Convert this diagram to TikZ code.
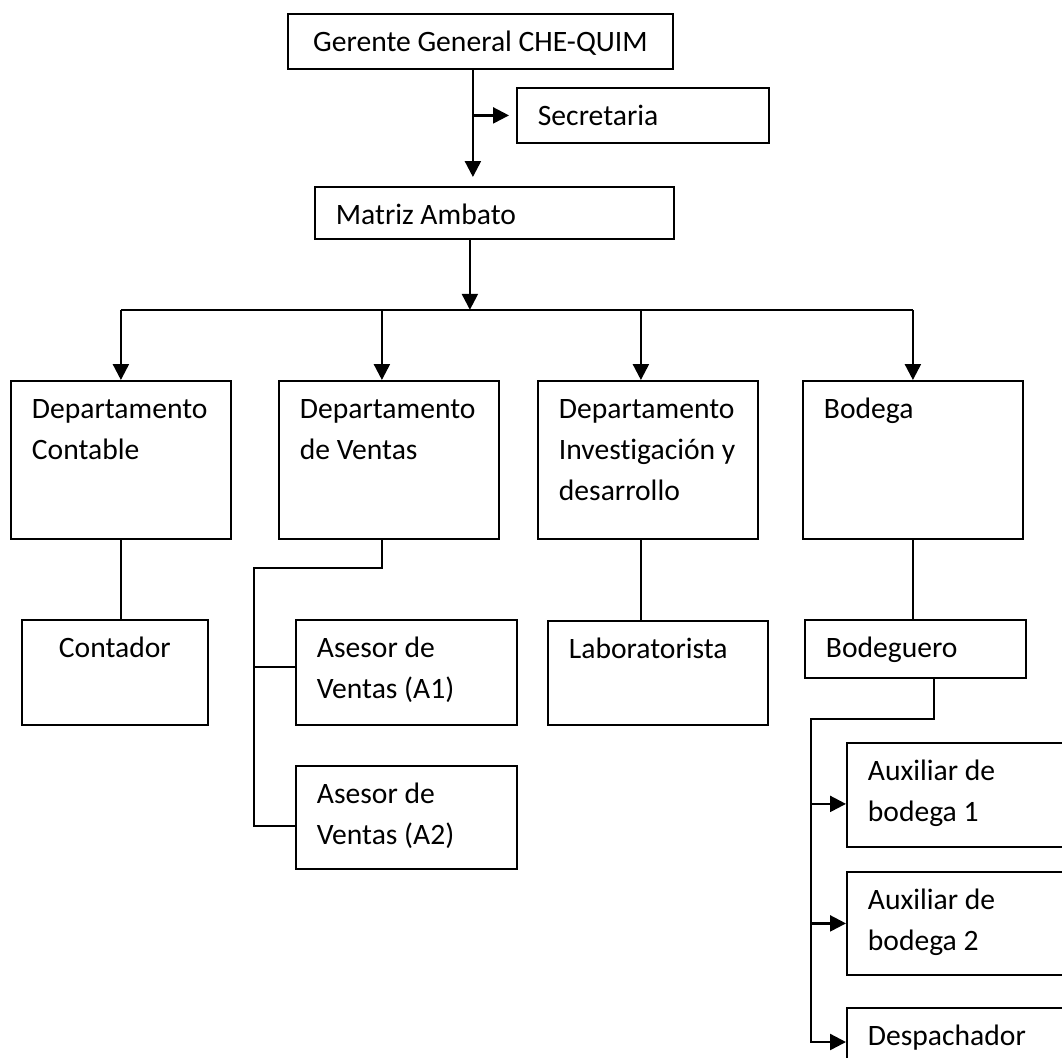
\documentclass[tikz,border=0pt]{standalone}
\usepackage{fontspec}
\setmainfont{Carlito}[Ligatures = NoCommon]
\usetikzlibrary{arrows.meta}
\hyphenpenalty=10000

\tikzset{
caja/.style = {draw, shape = rectangle, anchor = north west, inner xsep = 10.5pt, inner ysep = 0pt, line width = 0.9pt, font = \fontsize{14.8}{20.5}\selectfont},
linea/.style = {line width = 0.9pt},
flecha/.style = {line width = 1.2pt, -{Triangle[length = 8pt, width = 8pt]}}
}

\begin{document}
\begin{tikzpicture}[x = 0.5pt, y = -0.5pt]
\useasboundingbox (0,0) rectangle (1062,1057);
\clip (0,0) rectangle (1062,1057);

\node[caja] (gerente) at (287,13) {\parbox[t][27.5pt][t]{171.5pt}{\centering\rule{0pt}{19pt}Gerente General CHE-QUIM}};
\node[caja] (secretaria) at (516,87) {\parbox[t][27.5pt][t]{105pt}{\raggedright\rule{0pt}{19pt}Secretaria}};
\node[caja] (matriz) at (314,186) {\parbox[t][26pt][t]{158.5pt}{\raggedright\rule{0pt}{19pt}Matriz Ambato}};

\node[caja] (contable) at (10,380) {\parbox[t][79pt][t]{89pt}{\raggedright\rule{0pt}{19pt}Departamento\\Contable}};
\node[caja] (ventas) at (278,380) {\parbox[t][79pt][t]{89pt}{\raggedright\rule{0pt}{19pt}Departamento\\de Ventas}};
\node[caja] (investig) at (537,380) {\parbox[t][79pt][t]{89pt}{\raggedright\rule{0pt}{19pt}Departamento\\\mbox{Investigación y}\\desarrollo}};
\node[caja] (bodega) at (802,380) {\parbox[t][79pt][t]{89pt}{\raggedright\rule{0pt}{19pt}Bodega}};

\node[caja] (contador) at (21,619) {\parbox[t][52.5pt][t]{72pt}{\centering\rule{0pt}{19pt}Contador}};
\node[caja] (asesorA) at (295,619) {\parbox[t][52.5pt][t]{89.5pt}{\raggedright\rule{0pt}{19pt}Asesor de\\Ventas (A1)}};
\node[caja] (asesorB) at (295,765) {\parbox[t][51.5pt][t]{89.5pt}{\raggedright\rule{0pt}{19pt}Asesor de\\Ventas (A2)}};
\node[caja] (labor) at (547,620) {\parbox[t][52pt][t]{89pt}{\raggedright\rule{0pt}{19pt}Laboratorista}};
\node[caja] (bodeguero) at (804,619) {\parbox[t][29pt][t]{89.5pt}{\raggedright\rule{0pt}{19pt}Bodeguero}};
\node[caja] (auxA) at (846,742) {\parbox[t][52pt][t]{89.5pt}{\raggedright\rule{0pt}{19pt}Auxiliar de\\bodega 1}};
\node[caja] (auxB) at (846,871) {\parbox[t][51.5pt][t]{89.5pt}{\raggedright\rule{0pt}{19pt}Auxiliar de\\bodega 2}};
\node[caja] (despacho) at (846,1007) {\parbox[t][52pt][t]{89.5pt}{\raggedright\rule{0pt}{19pt}Despachador}};

\coordinate (g0) at ([xshift = -3.75pt]gerente.south);
\draw[flecha, shorten > = 4.5pt] (g0) -- (g0 |- matriz.north);
\draw[flecha, shorten > = 3.5pt] (g0 |- secretaria.west) -- (secretaria.west);

\coordinate (m0) at ([xshift = -12.25pt]matriz.south);
\coordinate (barra) at ([yshift = -35pt]m0);
\draw[flecha] (m0) -- (barra);
\draw[linea] (contable.north |- barra) -- (bodega.north |- barra);
\coordinate (v0) at ([xshift = -3.5pt]ventas.north);
\coordinate (i0) at ([xshift = -3.5pt]investig.north);
\draw[flecha] (contable.north |- barra) -- (contable.north);
\draw[flecha] (v0 |- barra) -- (v0);
\draw[flecha] (i0 |- barra) -- (i0);
\draw[flecha] (bodega.north |- barra) -- (bodega.north);

\draw[linea] (contable.south) -- (contable.south |- contador.north);

\coordinate (v1) at ([xshift = -3.5pt]ventas.south);
\coordinate (v2) at (254,568);
\coordinate (a1) at ([yshift = 2.75pt]asesorA.west);
\coordinate (a2) at ([yshift = -4.25pt]asesorB.west);
\draw[linea] (v1) |- (v2) |- (a2);
\draw[linea] (v2 |- a1) -- (a1);

\coordinate (i1) at ([xshift = -3.5pt]investig.south);
\draw[linea] (i1) -- (i1 |- labor.north);

\draw[linea] (bodega.south) -- (bodega.south |- bodeguero.north);

\coordinate (q0) at ([xshift = 9.25pt]bodeguero.south);
\coordinate (q1) at (811,719);
\coordinate (x1) at ([yshift = -4.5pt]auxA.west);
\coordinate (d1) at ([yshift = -17.5pt]despacho.north west);
\draw[flecha] (q0) |- (q1) |- (d1);
\draw[flecha] (q1 |- x1) -- (x1);
\draw[flecha] (q1 |- auxB.west) -- (auxB.west);
\end{tikzpicture}
\end{document}
